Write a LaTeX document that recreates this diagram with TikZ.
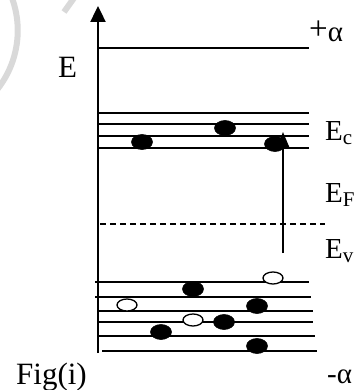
\documentclass[tikz,border=0pt]{standalone}
\usepackage{fontspec}
\setmainfont{Liberation Serif}
\usetikzlibrary{shapes.geometric,arrows.meta}
\tikzset{
  level/.style={line width=1.7pt},
  axisline/.style={line width=2.4pt,-{Triangle[width=15pt,length=16pt]}},
  elec/.style={ellipse,fill=black,draw=black,line width=0.6pt,minimum width=21pt,minimum height=15pt,inner sep=0pt},
  hole/.style={ellipse,fill=white,draw=black,line width=1.3pt,minimum width=20pt,minimum height=12pt,inner sep=0pt},
  lbl/.style={anchor=base west,inner sep=0pt,font=\fontsize{29}{29}\selectfont},
  biglbl/.style={anchor=base west,inner sep=0pt,font=\fontsize{31}{31}\selectfont},
  wm/.style={line width=6pt,color=black!15,line cap=butt}
}
\newcommand{\sbs}[1]{\raisebox{-4pt}{\fontsize{21}{21}\selectfont #1}}
\begin{document}
\begin{tikzpicture}[x=1pt,y=-1pt]
\useasboundingbox (0,0) rectangle (361,390);
% watermark
\draw[wm] (12,-2) arc[start angle=-20,end angle=40,radius=95];
\draw[wm] (74,-2) -- (64,12);
% axis
\coordinate (ax0) at (98,353);
\coordinate (ax1) at (98,6);
\draw[axisline] (ax0) -- (ax1);
% top level
\coordinate (t0) at (98,48); \coordinate (t1) at (309,48);
\draw[level] (t0) -- (t1);
% conduction levels
\foreach \y [count=\i] in {113,124,136,148} {
  \coordinate (c\i a) at (98,\y); \coordinate (c\i b) at (309,\y);
  \draw[level] (c\i a) -- (c\i b);
}
% Fermi dashed
\coordinate (f0) at (100,224); \coordinate (f1) at (325,224);
\draw[level,dash pattern=on 6pt off 4pt] (f0) -- (f1);
% valence levels
\coordinate (v1a) at (95,282);  \coordinate (v1b) at (309,282);
\coordinate (v2a) at (95,297);  \coordinate (v2b) at (311,297);
\coordinate (v3a) at (98,311);  \coordinate (v3b) at (313,311);
\coordinate (v4a) at (98,322);  \coordinate (v4b) at (313,322);
\coordinate (v5a) at (98,336);  \coordinate (v5b) at (315,336);
\coordinate (v6a) at (102,351); \coordinate (v6b) at (317,351);
\foreach \i in {1,...,6} { \draw[level] (v\i a) -- (v\i b); }
% electrons in conduction band
\node[elec] (ce1) at (142,142) {};
\node[elec] (ce2) at (225,128) {};
\node[elec] (ce3) at (275,144) {};
% valence electrons
\node[elec] (ve1) at (193,289) {};
\node[elec] (ve2) at (257,306) {};
\node[elec] (ve3) at (224,322) {};
\node[elec] (ve4) at (161,332) {};
\node[elec] (ve5) at (257,346) {};
% holes
\node[hole] (h1) at (273,278) {};
\node[hole] (h2) at (127,305) {};
\node[hole] (h3) at (193,320) {};
% excitation arrow
\coordinate (ar0) at (283,253); \coordinate (ar1) at (283,132);
\draw[line width=2pt,-{Triangle[width=12pt,length=15pt]}] (ar0) -- (ar1);
% labels
\node[biglbl] (lE) at (58,78) {E};
\node[lbl] (lpa) at (309,42) {\raisebox{2pt}{\fontsize{33}{33}\selectfont +}α};
\node[lbl] (lEc) at (325,140) {E\sbs{c}};
\node[lbl] (lEF) at (325,202) {E\sbs{F}};
\node[lbl] (lEv) at (325,258) {E\sbs{v}};
\node[biglbl] (lfig) at (16,384) {Fig(i)};
\node[lbl] (lma) at (327,383) {-α};
\end{tikzpicture}
\end{document}
